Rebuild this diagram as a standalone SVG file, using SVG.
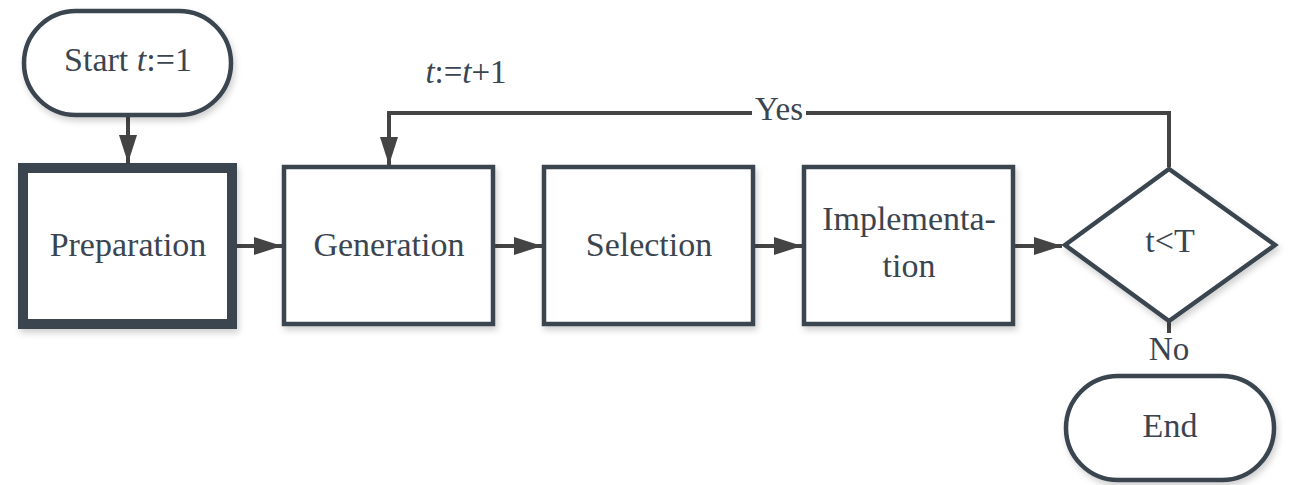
<svg xmlns="http://www.w3.org/2000/svg" width="1294" height="485" viewBox="0 0 1294 485">
  <style>
    .shape { fill: #ffffff; stroke: #3a4550; stroke-width: 4.5; filter: url(#shadow); }
    .thick { stroke-width: 10; }
    .label { font-family: "Liberation Serif", "Times New Roman", serif; font-size: 34px; fill: #3a4550; text-anchor: middle; }
    .edge { fill: none; stroke: #444444; stroke-width: 4; }
    .edge-label { font-family: "Liberation Serif", "Times New Roman", serif; font-size: 33px; fill: #3a4550; text-anchor: middle; }
  </style>
  <defs>
    <filter id="shadow" x="-10%" y="-10%" width="130%" height="130%">
      <feDropShadow dx="2" dy="4" stdDeviation="3" flood-color="#000000" flood-opacity="0.18"/>
    </filter>
    <marker id="arrow" viewBox="0 0 28 18" refX="28" refY="9" markerWidth="28" markerHeight="18" markerUnits="userSpaceOnUse" orient="auto">
      <path d="M0,0 L28,9 L0,18 Z" fill="#444444"/>
    </marker>
  </defs>

  <!-- connectors -->
  <g id="connectors">
    <line class="edge" x1="128" y1="117" x2="128" y2="163" marker-end="url(#arrow)"/>
    <line class="edge" x1="237" y1="246" x2="282" y2="246" marker-end="url(#arrow)"/>
    <line class="edge" x1="495" y1="246" x2="542" y2="246" marker-end="url(#arrow)"/>
    <line class="edge" x1="755" y1="246" x2="802" y2="246" marker-end="url(#arrow)"/>
    <line class="edge" x1="1015" y1="246" x2="1062" y2="246" marker-end="url(#arrow)"/>
    <!-- loop back: t < T -->
    <polyline class="edge" points="1169,167 1169,113 389,113 389,165" marker-end="url(#arrow)"/>
    <rect x="752" y="96" width="54" height="32" fill="#ffffff"/>
    <text class="edge-label" x="779" y="120">Yes</text>
    <text class="edge-label" x="466" y="83"><tspan font-style="italic">t</tspan>:=<tspan font-style="italic">t</tspan>+1</text>
    <!-- exit: t >= T -->
    <line class="edge" x1="1169" y1="321" x2="1169" y2="333"/>
    <text class="edge-label" x="1169" y="360">No</text>
  </g>

  <g id="start">
    <rect class="shape" x="24" y="11" width="207" height="104" rx="52" ry="52"/>
    <text class="label" x="128" y="71">Start <tspan font-style="italic">t</tspan>:=1</text>
  </g>

  <g id="preparation">
    <rect class="shape thick" x="23" y="168" width="209" height="156"/>
    <text class="label" x="128" y="256">Preparation</text>
  </g>

  <g id="generation">
    <rect class="shape" x="284" y="167" width="209" height="157"/>
    <text class="label" x="389" y="256">Generation</text>
  </g>

  <g id="selection">
    <rect class="shape" x="544" y="167" width="209" height="157"/>
    <text class="label" x="649" y="256">Selection</text>
  </g>

  <g id="implementation">
    <rect class="shape" x="804" y="167" width="209" height="157"/>
    <text class="label" x="909" y="230">Implementa-</text>
    <text class="label" x="909" y="277">tion</text>
  </g>

  <g id="decision">
    <polygon class="shape" points="1065,245 1169,169 1275,245 1169,321"/>
    <text class="label" x="1170" y="252">t&lt;T</text>
  </g>

  <g id="end">
    <rect class="shape" x="1066" y="376" width="208" height="104" rx="52" ry="52"/>
    <text class="label" x="1170" y="437">End</text>
  </g>
</svg>
